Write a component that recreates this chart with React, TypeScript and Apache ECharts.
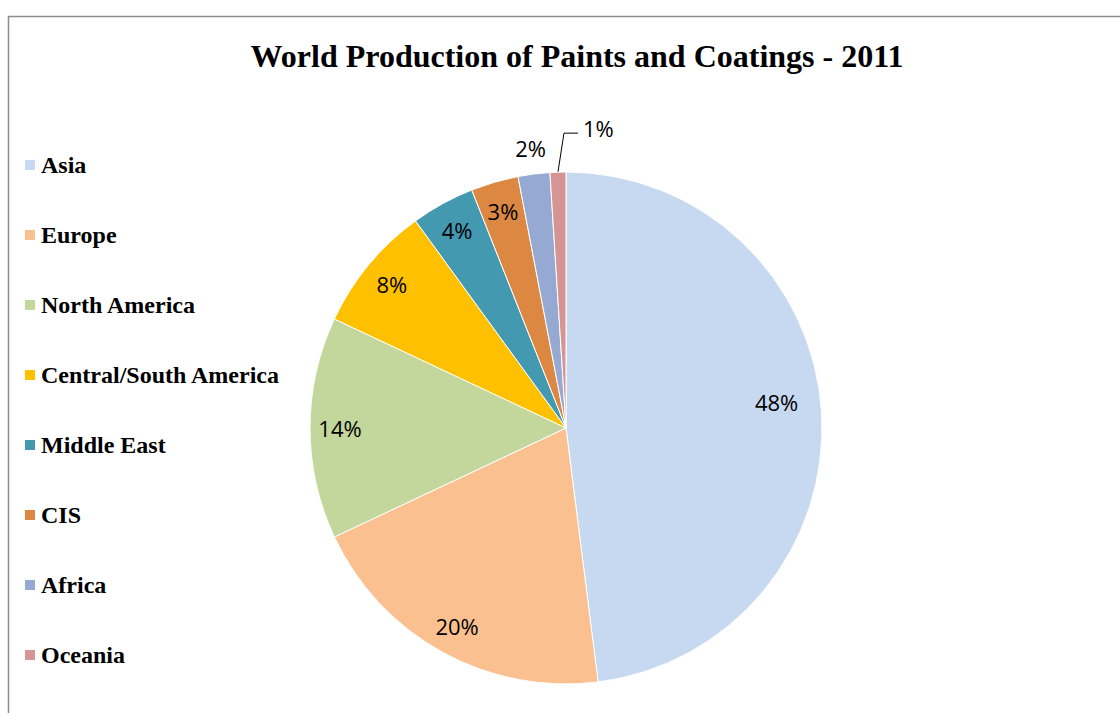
import React, { useEffect, useRef } from "react";
import * as echarts from "echarts";

const categories = [
  "Asia",
  "Europe",
  "North America",
  "Central/South America",
  "Middle East",
  "CIS",
  "Africa",
  "Oceania",
];
const shares = [48, 20, 14, 8, 4, 3, 2, 1];
const colors = [
  "#C6D9F1",
  "#FAC090",
  "#C3D69B",
  "#FFC000",
  "#4399B0",
  "#DD8842",
  "#95A9D3",
  "#D69595",
];
const titleText = "World Production of Paints and Coatings - 2011";

const innerLabelIdx = [0, 1, 2, 3, 4, 5];
const farLabelIdx = [6];
const leaderLabelIdx = [7];

export default function App() {
  const ref = useRef<HTMLDivElement>(null);
  useEffect(() => {
    if (!ref.current) return;
    const chart = echarts.init(ref.current, undefined, { renderer: "svg" });
    const labelFont = {
      fontFamily: "'Open Sans', sans-serif",
      fontSize: 22,
      color: "#000",
    };
    const center = [566, 428];
    const mainData = categories.map((name, i) => ({
      name,
      value: shares[i],
      itemStyle: { color: colors[i] },
      label: leaderLabelIdx.includes(i)
        ? { show: true, position: "outside", formatter: "{c}%", ...labelFont }
        : { show: false },
      labelLine: leaderLabelIdx.includes(i)
        ? { show: true, length: 39, length2: 14, lineStyle: { color: "#000", width: 1 } }
        : { show: false },
    }));
    const overlay = (idx: number[]) =>
      categories.map((name, i) => ({
        name,
        value: shares[i],
        itemStyle: { color: "rgba(0,0,0,0)" },
        label: idx.includes(i)
          ? {
              show: true,
              position: "inside",
              formatter: "{c}%",
              ...labelFont,
              offset: i === 0 ? [-15, -12] : [0, 0],
            }
          : { show: false },
        labelLine: { show: false },
      }));
    chart.setOption({
      animation: false,
      title: {
        text: titleText,
        left: 572,
        textAlign: "center",
        top: 35,
        textStyle: {
          fontFamily: "'Liberation Serif', serif",
          fontSize: 32,
          fontWeight: "bold",
          color: "#000",
        },
      },
      legend: {
        data: categories,
        orient: "vertical",
        left: 23,
        top: 153,
        padding: 0,
        icon: "rect",
        itemWidth: 12,
        itemHeight: 12,
        itemGap: 46,
        selectedMode: false,
        textStyle: {
          fontFamily: "'Liberation Serif', serif",
          fontSize: 24,
          fontWeight: "bold",
          lineHeight: 24,
          color: "#000",
        },
      },
      graphic: [
        {
          type: "rect",
          shape: { x: 8.5, y: 16.5, width: 1300, height: 900 },
          style: { fill: "none", stroke: "#8c8c8c", lineWidth: 1.5 },
          silent: true,
        },
      ],
      series: [
        {
          type: "pie",
          center,
          radius: 256,
          startAngle: 90,
          clockwise: true,
          avoidLabelOverlap: false,
          itemStyle: { borderColor: "#fff", borderWidth: 1 },
          emphasis: { disabled: true },
          data: mainData,
          labelLayout: (p: any) => {
            if (!leaderLabelIdx.includes(p.dataIndex) || !p.labelLinePoints) return {};
            const p0 = p.labelLinePoints[0];
            const p1 = [p0[0] + 6, p0[1] - 39];
            const p2 = [p1[0] + 14, p1[1]];
            return {
              x: p2[0] + 5,
              y: p1[1] - 5,
              align: "left",
              verticalAlign: "middle",
              labelLinePoints: [p0, p1, p2],
            };
          },
        },
        {
          type: "pie",
          center,
          radius: [190, 256],
          startAngle: 90,
          clockwise: true,
          silent: true,
          avoidLabelOverlap: false,
          emphasis: { disabled: true },
          data: overlay(innerLabelIdx),
        },
        {
          type: "pie",
          center,
          radius: [268, 290],
          startAngle: 90,
          clockwise: true,
          silent: true,
          avoidLabelOverlap: false,
          emphasis: { disabled: true },
          data: overlay(farLabelIdx),
        },
      ],
    });
    return () => chart.dispose();
  }, []);
  return (
    <div
      ref={ref}
      style={{ position: "fixed", left: 0, top: 0, width: 1120, height: 713, background: "#fff" }}
    />
  );
}
